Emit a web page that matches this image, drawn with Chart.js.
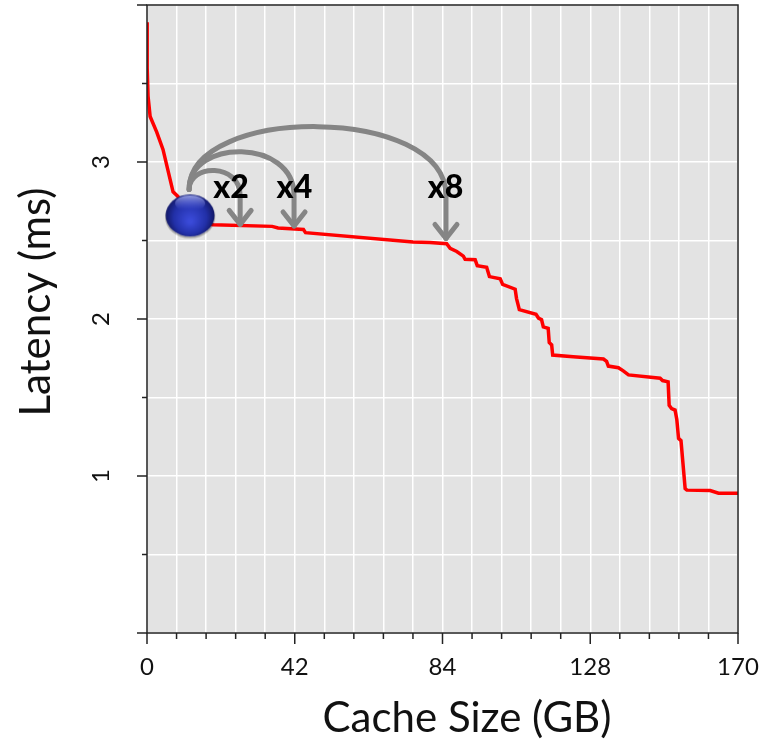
<!DOCTYPE html>
<html>
<head>
<meta charset="utf-8">
<script src="https://cdn.jsdelivr.net/npm/chart.js@4/dist/chart.umd.min.js"></script>
<style>
  html, body { margin: 0; padding: 0; background: #fff; }
  #wrap { width: 764px; height: 751px; }
</style>
</head>
<body>
<div id="wrap"><canvas id="chart" width="764" height="751"></canvas></div>
<script>
// cache size (GB) vs. latency (ms)
const sizeGB = [0, 0.05, 0.3, 0.9, 2.8, 4.6, 7.5, 8.9, 10.5, 12.5, 19, 36, 37.7, 45, 45.6, 76.5, 81.4, 86.2,
  87.2, 89.1, 91, 91.5, 94.4, 95, 97.7, 98.5, 101.6, 102.3, 105.9, 106.3, 107.1, 111.9, 112.6, 113.5,
  114, 115.4, 115.7, 116.4, 116.7, 122.6, 131.3, 132.2, 132.7, 135.6, 137, 138.5, 147.6, 148.3, 149.9,
  150.2, 150.9, 151.9, 152.4, 152.9, 153.6, 154.8, 155.3, 162, 164.4, 170];
const latencyMs = [3.89, 3.6, 3.42, 3.29, 3.19, 3.08, 2.81, 2.78, 2.66, 2.62, 2.6, 2.59, 2.58, 2.57, 2.55, 2.49, 2.488, 2.48,
  2.45, 2.43, 2.4, 2.38, 2.377, 2.34, 2.33, 2.27, 2.256, 2.22, 2.19, 2.13, 2.06, 2.03, 2.006, 1.995,
  1.95, 1.94, 1.85, 1.835, 1.77, 1.76, 1.745, 1.73, 1.7, 1.69, 1.67, 1.644, 1.623, 1.608, 1.6,
  1.45, 1.43, 1.42, 1.36, 1.24, 1.225, 0.92, 0.91, 0.907, 0.89, 0.89];

// the baseline cache marker
const markerGB = [12.4];
const markerMs = [2.66];

// "x2 / x4 / x8" arrows: where they land and how high they arc
const arrowLabels = ['x2', 'x4', 'x8'];
const arrowTipGB = [26.8, 42.3, 86];
const arrowTipMs = [2.59, 2.58, 2.5];
const arrowPeakMs = [2.95, 3.07, 3.23];
const arrowLabelGB = [24.2, 42.4, 85.9];

const xTickLabels = ['0', '42', '84', '128', '170'];
const xTickAt = [0, 42.5, 85, 127.5, 170];
const yTickLabels = ['1', '2', '3'];

const FONT = 'Lato, "Open Sans", sans-serif';

// shaded blue ball used as the marker
function makeBall() {
    const c = document.createElement('canvas');
    c.width = 54; c.height = 48;
    const g = c.getContext('2d');
    g.save();
    g.fillStyle = 'rgba(0,0,0,0.25)';
    g.beginPath();
    g.ellipse(27, 26, 25, 21, 0, 0, Math.PI * 2);
    g.fill();
    g.restore();
    const grad = g.createRadialGradient(27, 30, 2, 27, 24, 26);
    grad.addColorStop(0, '#3a4ad8');
    grad.addColorStop(0.6, '#2230a8');
    grad.addColorStop(1, '#10145a');
    g.fillStyle = grad;
    g.beginPath();
    g.ellipse(27, 24, 24.5, 21, 0, 0, Math.PI * 2);
    g.fill();
    const hi = g.createLinearGradient(0, 4, 0, 18);
    hi.addColorStop(0, 'rgba(190,200,255,0.75)');
    hi.addColorStop(1, 'rgba(120,130,255,0)');
    g.fillStyle = hi;
    g.beginPath();
    g.ellipse(27, 12, 15, 8, 0, 0, Math.PI * 2);
    g.fill();
    return c;
}

const plotBox = {
    id: 'plotBox',
    beforeDraw(chart) {
        const a = chart.chartArea;
        const ctx = chart.ctx;
        ctx.save();
        ctx.fillStyle = '#e3e3e3';
        ctx.fillRect(a.left, a.top, a.right - a.left, a.bottom - a.top);
        ctx.restore();
    },
    afterDraw(chart) {
        const a = chart.chartArea;
        const ctx = chart.ctx;
        const x = chart.scales.x, y = chart.scales.y;
        ctx.save();
        ctx.strokeStyle = '#222';
        ctx.lineWidth = 1.5;
        ctx.strokeRect(a.left, a.top, a.right - a.left, a.bottom - a.top);

        // tick marks
        x.ticks.forEach((t, i) => {
            const px = x.getPixelForValue(t.value);
            const len = i % 5 === 0 ? 11 : 6;
            ctx.beginPath();
            ctx.moveTo(px, a.bottom);
            ctx.lineTo(px, a.bottom + len);
            ctx.stroke();
        });
        y.ticks.forEach((t, i) => {
            const py = y.getPixelForValue(t.value);
            const len = i % 2 === 0 ? 10 : 5;
            ctx.beginPath();
            ctx.moveTo(a.left - len, py);
            ctx.lineTo(a.left, py);
            ctx.stroke();
        });

        ctx.fillStyle = '#111';
        ctx.font = '24px ' + FONT;
        ctx.textAlign = 'center';
        ctx.textBaseline = 'middle';
        // x tick labels
        xTickLabels.forEach((lbl, i) => {
            ctx.fillText(lbl, x.getPixelForValue(xTickAt[i]), a.bottom + 34);
        });
        // rotated y tick labels
        yTickLabels.forEach(lbl => {
            const py = y.getPixelForValue(Number(lbl));
            ctx.save();
            ctx.translate(101, py);
            ctx.rotate(-Math.PI / 2);
            ctx.fillText(lbl, 0, 0);
            ctx.restore();
        });

        // axis titles
        ctx.font = '42px ' + FONT;
        ctx.save();
        ctx.translate(36, 302);
        ctx.rotate(-Math.PI / 2);
        ctx.fillText('Latency (ms)', 0, 0);
        ctx.restore();
        ctx.fillText('Cache Size (GB)', 467, 718);
        ctx.restore();
    },
    afterDatasetsDraw(chart) {
        const ctx = chart.ctx;
        const x = chart.scales.x, y = chart.scales.y;
        const sx = x.getPixelForValue(markerGB[0]) - 1;
        const sy = y.getPixelForValue(markerMs[0]) - 26;
        ctx.save();
        ctx.strokeStyle = '#858585';
        ctx.lineWidth = 5;
        ctx.lineCap = 'round';
        ctx.lineJoin = 'round';
        arrowLabels.forEach((lbl, i) => {
            const ex = x.getPixelForValue(arrowTipGB[i]);
            const ey = y.getPixelForValue(arrowTipMs[i]);
            const pk = y.getPixelForValue(arrowPeakMs[i]);
            const h = sy + (pk - sy) / 0.75;
            ctx.beginPath();
            ctx.moveTo(sx, sy);
            ctx.bezierCurveTo(sx, h, ex, h, ex, sy + 6);
            ctx.lineTo(ex, ey - 2);
            ctx.stroke();
            ctx.beginPath();
            ctx.moveTo(ex - 11, ey - 16);
            ctx.lineTo(ex, ey - 2);
            ctx.lineTo(ex + 11, ey - 16);
            ctx.stroke();
        });
        ctx.fillStyle = '#000';
        ctx.font = '900 32px ' + FONT;
        ctx.textAlign = 'center';
        ctx.textBaseline = 'alphabetic';
        arrowLabels.forEach((lbl, i) => {
            ctx.fillText(lbl, x.getPixelForValue(arrowLabelGB[i]), y.getPixelForValue(2.77));
        });
        ctx.restore();
    }
};

const lineData = sizeGB.map((v, i) => ({ x: v, y: latencyMs[i] }));
const markerData = markerGB.map((v, i) => ({ x: v, y: markerMs[i] }));

new Chart(document.getElementById('chart'), {
    type: 'scatter',
    data: {
        datasets: [
            {
                data: markerData,
                pointStyle: makeBall(),
                pointRadius: 24,
                order: 0
            },
            {
                data: lineData,
                showLine: true,
                borderColor: '#ff0000',
                borderWidth: 3.5,
                pointRadius: 0,
                tension: 0,
                order: 1
            }
        ]
    },
    options: {
        responsive: false,
        animation: false,
        layout: { autoPadding: false, padding: { top: 5, right: 26, left: 0, bottom: 0 } },
        plugins: { legend: { display: false }, tooltip: { enabled: false } },
        scales: {
            x: {
                type: 'linear',
                min: 0,
                max: 170,
                ticks: { stepSize: 8.5, autoSkip: false, display: false },
                grid: { color: '#ffffff', lineWidth: 1.5, drawTicks: false },
                border: { display: false },
                afterFit: s => { s.height = 118; }
            },
            y: {
                type: 'linear',
                min: 0,
                max: 4,
                ticks: { stepSize: 0.5, display: false },
                grid: { color: '#ffffff', lineWidth: 1.5, drawTicks: false },
                border: { display: false },
                afterFit: s => { s.width = 147; }
            }
        }
    },
    plugins: [plotBox]
});
</script>
</body>
</html>
